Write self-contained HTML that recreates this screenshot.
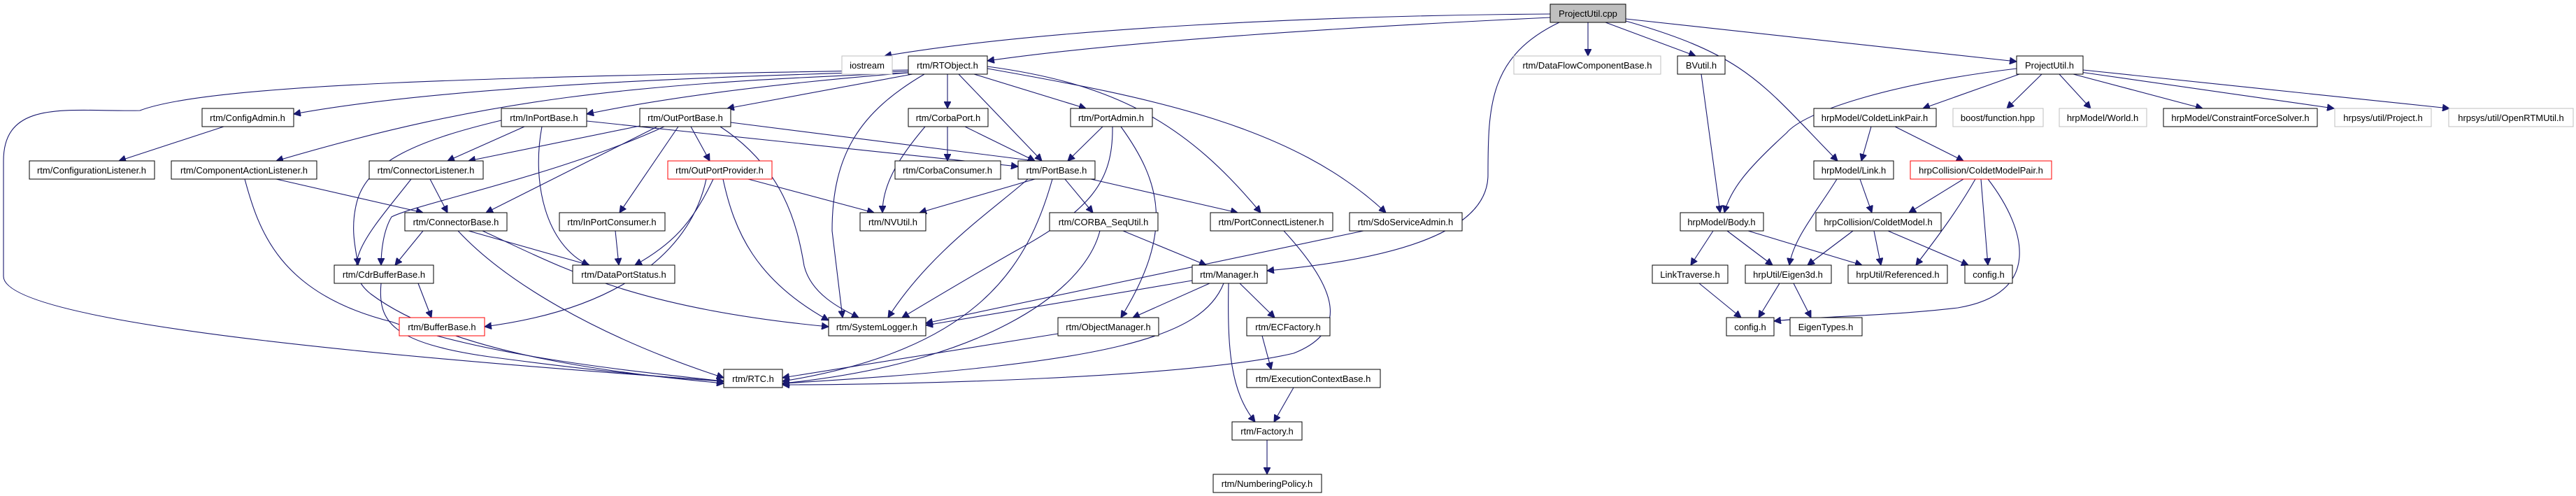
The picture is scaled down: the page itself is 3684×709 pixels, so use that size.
<!DOCTYPE html>
<html><head><meta charset="utf-8"><style>
html,body{margin:0;padding:0;background:#fff;}
svg{display:block;}
text{font-family:"Liberation Sans",Arial,sans-serif;font-size:13px;fill:#000;text-anchor:middle;}
.e{fill:none;stroke:#191970;stroke-width:1.1;marker-end:url(#a);}
.n{fill:#fff;stroke:#000;stroke-width:1;}
.g{fill:#fff;stroke:#bfbfbf;stroke-width:1;}
.r{fill:#fff;stroke:#ff0000;stroke-width:1;}
</style></head><body>
<svg width="3684" height="709" viewBox="0 0 3684 709" xmlns="http://www.w3.org/2000/svg">
<defs><marker id="a" markerUnits="userSpaceOnUse" markerWidth="11" markerHeight="10" refX="10" refY="5" orient="auto"><path d="M0,0 L10,5 L0,10 z" fill="#191970" stroke="#191970"/></marker></defs>

<!-- edges -->
<g>
<path class="e" d="M2217,20 C1900,22 1500,40 1265,80"/>
<path class="e" d="M2217,25 C1900,40 1600,60 1412,87"/>
<path class="e" d="M2271,32 L2271,80"/>
<path class="e" d="M2296,32 L2425,80"/>
<path class="e" d="M2325,30 C2500,80 2520,120 2628,230"/>
<path class="e" d="M2230,32 C2130,80 2128,150 2128,250 C2128,330 2000,370 1812,387"/>
<path class="e" d="M2325,27 L2884,88"/>
<path class="e" d="M2884,98 C2700,120 2580,160 2555,190 C2500,240 2475,270 2466,304"/>
<path class="e" d="M2888,106 L2750,155"/>
<path class="e" d="M2920,106 L2870,155"/>
<path class="e" d="M2945,106 L2990,155"/>
<path class="e" d="M2965,106 L3150,155"/>
<path class="e" d="M2975,103 L3338,155"/>
<path class="e" d="M2979,100 L3503,155"/>
<path class="e" d="M2676,181 L2662,230"/>
<path class="e" d="M2710,181 L2808,230"/>
<path class="e" d="M2433,106 L2460,304"/>
<path class="e" d="M2660,256 L2677,304"/>
<path class="e" d="M2627,256 C2600,300 2565,340 2559,379"/>
<path class="e" d="M2808,256 L2730,304"/>
<path class="e" d="M2825,256 C2800,300 2770,340 2740,379"/>
<path class="e" d="M2833,256 L2843,379"/>
<path class="e" d="M2843,256 C2900,330 2920,420 2800,440 C2700,452 2600,452 2537,459"/>
<path class="e" d="M2650,330 L2585,379"/>
<path class="e" d="M2680,330 L2690,379"/>
<path class="e" d="M2700,330 L2815,379"/>
<path class="e" d="M2450,330 L2418,379"/>
<path class="e" d="M2470,330 L2535,379"/>
<path class="e" d="M2500,330 L2663,379"/>
<path class="e" d="M2430,405 L2490,454"/>
<path class="e" d="M2545,405 L2515,454"/>
<path class="e" d="M2565,405 L2590,454"/>

<path class="e" d="M1299,100 C700,110 300,120 200,158 C100,160 5,140 5,230 L5,395 C5,470 700,520 1035,545"/>
<path class="e" d="M1299,102 C900,112 600,130 420,163"/>
<path class="e" d="M1299,104 C1100,120 950,140 839,163"/>
<path class="e" d="M1305,106 L1040,155"/>
<path class="e" d="M1299,104 C900,120 700,140 395,230"/>
<path class="e" d="M1355,106 L1355,155"/>
<path class="e" d="M1393,106 L1553,155"/>
<path class="e" d="M1371,106 L1490,230"/>
<path class="e" d="M1412,95 C1600,120 1700,180 1803,304"/>
<path class="e" d="M1412,98 C1650,140 1850,180 1982,304"/>
<path class="e" d="M1322,106 C1230,160 1190,220 1190,330 L1205,454"/>
<path class="e" d="M320,181 L170,230"/>
<path class="e" d="M395,256 L605,304"/>
<path class="e" d="M350,256 C370,330 400,420 560,460 C700,510 900,530 1035,545"/>
<path class="e" d="M750,181 L640,230"/>
<path class="e" d="M839,173 L1456,238"/>
<path class="e" d="M717,172 C600,200 525,230 510,290 C500,330 510,360 512,379"/>
<path class="e" d="M775,181 C760,260 780,350 842,379"/>
<path class="e" d="M1045,175 L1480,230"/>
<path class="e" d="M915,180 L670,230"/>
<path class="e" d="M940,181 L695,304"/>
<path class="e" d="M950,181 C800,250 600,290 560,310 C548,330 545,360 545,379"/>
<path class="e" d="M970,181 L886,304"/>
<path class="e" d="M988,181 L1015,230"/>
<path class="e" d="M1030,181 C1120,240 1140,320 1150,380 C1160,420 1200,440 1228,454"/>
<path class="e" d="M615,256 L640,304"/>
<path class="e" d="M588,256 C530,330 480,380 530,420 C650,510 900,535 1035,548"/>
<path class="e" d="M605,330 L565,379"/>
<path class="e" d="M670,330 L843,379"/>
<path class="e" d="M690,330 C800,380 900,440 1185,467"/>
<path class="e" d="M655,330 C720,400 850,480 1035,540"/>
<path class="e" d="M880,330 L885,379"/>
<path class="e" d="M1070,256 L1250,304"/>
<path class="e" d="M1020,256 C990,320 960,350 908,379"/>
<path class="e" d="M1010,256 C990,350 900,440 693,467"/>
<path class="e" d="M1034,256 C1050,330 1080,400 1185,458"/>
<path class="e" d="M598,405 L617,454"/>
<path class="e" d="M545,405 C540,460 560,490 700,510 C850,530 950,540 1035,545"/>
<path class="e" d="M1355,181 L1355,230"/>
<path class="e" d="M1380,181 L1480,230"/>
<path class="e" d="M1323,181 C1290,220 1262,260 1262,304"/>
<path class="e" d="M1577,181 L1527,230"/>
<path class="e" d="M1591,181 C1592,260 1560,300 1450,360 C1380,400 1330,430 1290,454"/>
<path class="e" d="M1603,181 C1660,260 1680,330 1603,454"/>
<path class="e" d="M1480,256 L1315,304"/>
<path class="e" d="M1470,256 C1420,300 1330,360 1270,454"/>
<path class="e" d="M1505,256 C1470,380 1400,500 1119,545"/>
<path class="e" d="M1523,256 L1563,304"/>
<path class="e" d="M1560,256 L1770,304"/>
<path class="e" d="M1606,330 L1725,379"/>
<path class="e" d="M1573,330 C1550,420 1400,520 1119,548"/>
<path class="e" d="M1836,330 C1900,400 1940,470 1850,505 C1700,540 1300,550 1119,550"/>
<path class="e" d="M1950,330 L1324,462"/>
<path class="e" d="M1705,401 L1324,465"/>
<path class="e" d="M1730,405 L1620,454"/>
<path class="e" d="M1750,405 C1720,480 1600,520 1119,548"/>
<path class="e" d="M1773,405 L1823,454"/>
<path class="e" d="M1757,405 C1755,500 1760,560 1795,603"/>
<path class="e" d="M1513,477 L1119,540"/>
<path class="e" d="M1805,480 L1818,528"/>
<path class="e" d="M1850,554 L1822,603"/>
<path class="e" d="M1812,628 L1812,678"/>
</g>

<!-- nodes -->
<g>
<rect x="2217" y="6" width="108" height="26" fill="#bfbfbf" stroke="#000"/><text x="2271" y="24">ProjectUtil.cpp</text>
<rect class="g" x="1204" y="80" width="72" height="26"/><text x="1240" y="98">iostream</text>
<rect class="n" x="1299" y="80" width="113" height="26"/><text x="1355" y="98">rtm/RTObject.h</text>
<rect class="g" x="2165" y="80" width="210" height="26"/><text x="2270" y="98">rtm/DataFlowComponentBase.h</text>
<rect class="n" x="2399" y="80" width="68" height="26"/><text x="2433" y="98">BVutil.h</text>
<rect class="n" x="2884" y="80" width="95" height="26"/><text x="2931" y="98">ProjectUtil.h</text>

<rect class="n" x="289" y="155" width="131" height="26"/><text x="354" y="173">rtm/ConfigAdmin.h</text>
<rect class="n" x="717" y="155" width="122" height="26"/><text x="778" y="173">rtm/InPortBase.h</text>
<rect class="n" x="915" y="155" width="130" height="26"/><text x="980" y="173">rtm/OutPortBase.h</text>
<rect class="n" x="1299" y="155" width="114" height="26"/><text x="1356" y="173">rtm/CorbaPort.h</text>
<rect class="n" x="1531" y="155" width="117" height="26"/><text x="1589" y="173">rtm/PortAdmin.h</text>
<rect class="n" x="2594" y="155" width="175" height="26"/><text x="2681" y="173">hrpModel/ColdetLinkPair.h</text>
<rect class="g" x="2793" y="155" width="129" height="26"/><text x="2857" y="173">boost/function.hpp</text>
<rect class="g" x="2945" y="155" width="125" height="26"/><text x="3007" y="173">hrpModel/World.h</text>
<rect class="n" x="3094" y="155" width="220" height="26"/><text x="3204" y="173">hrpModel/ConstraintForceSolver.h</text>
<rect class="g" x="3339" y="155" width="138" height="26"/><text x="3408" y="173">hrpsys/util/Project.h</text>
<rect class="g" x="3502" y="155" width="178" height="26"/><text x="3591" y="173">hrpsys/util/OpenRTMUtil.h</text>

<rect class="n" x="42" y="230" width="179" height="26"/><text x="131" y="248">rtm/ConfigurationListener.h</text>
<rect class="n" x="245" y="230" width="208" height="26"/><text x="349" y="248">rtm/ComponentActionListener.h</text>
<rect class="n" x="528" y="230" width="163" height="26"/><text x="609" y="248">rtm/ConnectorListener.h</text>
<rect class="r" x="955" y="230" width="149" height="26"/><text x="1029" y="248">rtm/OutPortProvider.h</text>
<rect class="n" x="1280" y="230" width="151" height="26"/><text x="1355" y="248">rtm/CorbaConsumer.h</text>
<rect class="n" x="1456" y="230" width="110" height="26"/><text x="1511" y="248">rtm/PortBase.h</text>
<rect class="n" x="2594" y="230" width="114" height="26"/><text x="2651" y="248">hrpModel/Link.h</text>
<rect class="r" x="2732" y="230" width="202" height="26"/><text x="2833" y="248">hrpCollision/ColdetModelPair.h</text>

<rect class="n" x="579" y="304" width="146" height="26"/><text x="652" y="322">rtm/ConnectorBase.h</text>
<rect class="n" x="800" y="304" width="151" height="26"/><text x="875" y="322">rtm/InPortConsumer.h</text>
<rect class="n" x="1230" y="304" width="94" height="26"/><text x="1277" y="322">rtm/NVUtil.h</text>
<rect class="n" x="1501" y="304" width="155" height="26"/><text x="1578" y="322">rtm/CORBA_SeqUtil.h</text>
<rect class="n" x="1731" y="304" width="175" height="26"/><text x="1818" y="322">rtm/PortConnectListener.h</text>
<rect class="n" x="1930" y="304" width="161" height="26"/><text x="2010" y="322">rtm/SdoServiceAdmin.h</text>
<rect class="n" x="2403" y="304" width="119" height="26"/><text x="2462" y="322">hrpModel/Body.h</text>
<rect class="n" x="2597" y="304" width="179" height="26"/><text x="2686" y="322">hrpCollision/ColdetModel.h</text>

<rect class="n" x="478" y="379" width="142" height="26"/><text x="549" y="397">rtm/CdrBufferBase.h</text>
<rect class="n" x="819" y="379" width="146" height="26"/><text x="892" y="397">rtm/DataPortStatus.h</text>
<rect class="n" x="1705" y="379" width="107" height="26"/><text x="1758" y="397">rtm/Manager.h</text>
<rect class="n" x="2363" y="379" width="108" height="26"/><text x="2417" y="397">LinkTraverse.h</text>
<rect class="n" x="2496" y="379" width="123" height="26"/><text x="2557" y="397">hrpUtil/Eigen3d.h</text>
<rect class="n" x="2643" y="379" width="142" height="26"/><text x="2714" y="397">hrpUtil/Referenced.h</text>
<rect class="n" x="2810" y="379" width="68" height="26"/><text x="2844" y="397">config.h</text>

<rect class="r" x="571" y="454" width="122" height="26"/><text x="632" y="472">rtm/BufferBase.h</text>
<rect class="n" x="1185" y="454" width="139" height="26"/><text x="1254" y="472">rtm/SystemLogger.h</text>
<rect class="n" x="1513" y="454" width="144" height="26"/><text x="1585" y="472">rtm/ObjectManager.h</text>
<rect class="n" x="1783" y="454" width="119" height="26"/><text x="1842" y="472">rtm/ECFactory.h</text>
<rect class="n" x="2469" y="454" width="68" height="26"/><text x="2503" y="472">config.h</text>
<rect class="n" x="2560" y="454" width="103" height="26"/><text x="2611" y="472">EigenTypes.h</text>

<rect class="n" x="1035" y="528" width="84" height="26"/><text x="1077" y="546">rtm/RTC.h</text>
<rect class="n" x="1783" y="528" width="191" height="26"/><text x="1878" y="546">rtm/ExecutionContextBase.h</text>
<rect class="n" x="1762" y="603" width="100" height="26"/><text x="1812" y="621">rtm/Factory.h</text>
<rect class="n" x="1735" y="678" width="155" height="26"/><text x="1812" y="696">rtm/NumberingPolicy.h</text>
</g>
</svg>
</body></html>
